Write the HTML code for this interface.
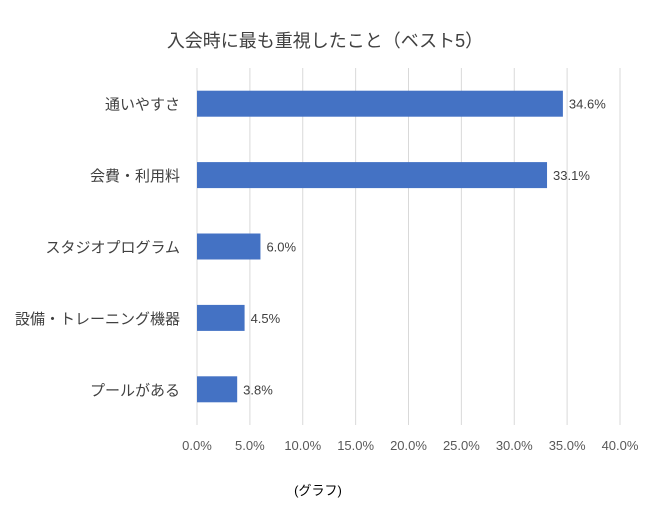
<!DOCTYPE html>
<html><head><meta charset="utf-8">
<style>
body{margin:0;background:#fff;}
svg text{font-family:"Liberation Sans","Noto Sans CJK JP",sans-serif;}
</style></head>
<body>
<svg id="chart" width="650" height="508" xmlns="http://www.w3.org/2000/svg">
<rect width="650" height="508" fill="#fff"/>
<text x="325" y="47" text-anchor="middle" font-size="18" fill="#404040">入会時に最も重視したこと（ベスト5）</text>
<g id="grid"></g><g id="bars"></g><g id="labels"></g>
<text x="318" y="495" text-anchor="middle" font-size="13" fill="#000">(グラフ)</text>
</svg>
<script>
const categories=["通いやすさ","会費・利用料","スタジオプログラム","設備・トレーニング機器","プールがある"];
const values=[34.6,33.1,6.0,4.5,3.8];
const ticks=[0,5,10,15,20,25,30,35,40];
const x0=197,x1=620,yTop=68,yBottom=425,xmax=40;
const xs=v=>x0+(x1-x0)*v/xmax;
const band=(yBottom-yTop)/categories.length;
const yc=i=>yTop+band*(i+0.5);
const NS="http://www.w3.org/2000/svg";
function mk(t,a,p){const e=document.createElementNS(NS,t);for(const k in a)e.setAttribute(k,a[k]);p.appendChild(e);return e;}
const g=document.getElementById('grid'),b=document.getElementById('bars'),l=document.getElementById('labels');
ticks.forEach(t=>{
 const ln=mk('line',{x1:xs(t),x2:xs(t),y1:yTop,y2:yBottom,stroke:'#d9d9d9','stroke-width':1},g);
 
 
 const tx=mk('text',{x:xs(t),y:450,'text-anchor':'middle','font-size':13,fill:'#595959'},l);
 tx.textContent=t.toFixed(1)+'%';
 
 
});
categories.forEach((c,i)=>{
 const y=yc(i);
 const r=mk('rect',{x:x0,y:y-13,width:xs(values[i])-x0,height:26,fill:'#4472c4'},b);
 
 
 const v=mk('text',{x:xs(values[i])+6,y:y+5,'font-size':13,fill:'#404040'},l);
 v.textContent=values[i].toFixed(1)+'%';
 
 
 const ct=mk('text',{x:180,y:y+6,'text-anchor':'end','font-size':15,fill:'#404040'},l);
 ct.textContent=c;
 
 
});
</script>
</body></html>
